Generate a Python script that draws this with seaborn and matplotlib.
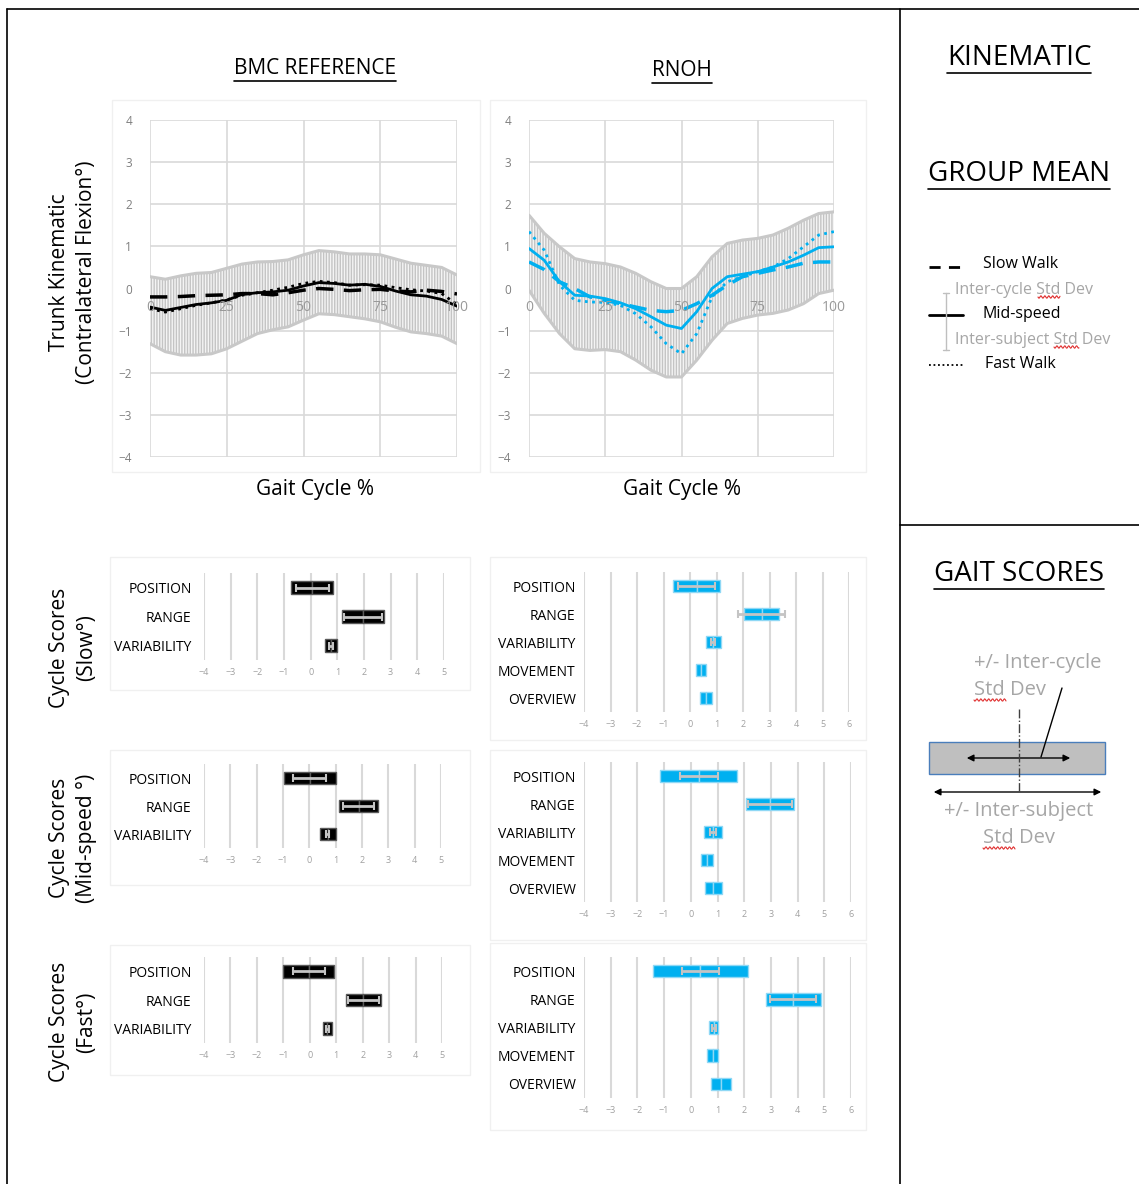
import numpy as np
import pandas as pd
import seaborn as sns
import matplotlib.pyplot as plt
from matplotlib.patches import Rectangle, FancyArrowPatch

W, H = 1139, 1184

# ---- kinematic curves (trunk contralateral flexion, deg) ----
gait_pct = [0, 5, 10, 15, 20, 25, 30, 35, 40, 45, 50, 55, 60, 65, 70, 75, 80, 85, 90, 95, 100]

bmc_mid = [-0.44, -0.52, -0.45, -0.38, -0.34, -0.28, -0.14, -0.10, -0.08, -0.04, 0.06,
           0.14, 0.12, 0.08, 0.10, 0.05, -0.06, -0.15, -0.18, -0.26, -0.42]
bmc_slow = [-0.20, -0.20, -0.19, -0.17, -0.16, -0.15, -0.12, -0.12, -0.15, -0.10, -0.04,
            0.00, -0.02, -0.05, -0.03, -0.02, -0.06, -0.08, -0.04, -0.07, -0.13]
bmc_fast = [-0.48, -0.56, -0.48, -0.40, -0.34, -0.27, -0.16, -0.10, -0.04, 0.03, 0.12,
            0.17, 0.14, 0.08, 0.09, 0.08, 0.02, -0.03, -0.06, -0.12, -0.38]
bmc_upper = [0.28, 0.22, 0.30, 0.36, 0.38, 0.48, 0.58, 0.63, 0.64, 0.68, 0.80,
             0.90, 0.87, 0.82, 0.82, 0.80, 0.70, 0.60, 0.55, 0.50, 0.32]
bmc_lower = [-1.31, -1.50, -1.58, -1.58, -1.55, -1.43, -1.25, -1.07, -0.98, -0.91, -0.75,
             -0.60, -0.62, -0.67, -0.72, -0.79, -0.92, -1.03, -1.07, -1.13, -1.31]

rnoh_mid = [0.95, 0.67, 0.16, -0.16, -0.18, -0.24, -0.34, -0.48, -0.67, -0.87, -0.95,
            -0.55, 0.00, 0.28, 0.34, 0.40, 0.51, 0.63, 0.79, 0.97, 0.99]
rnoh_slow = [0.63, 0.45, 0.16, 0.00, -0.20, -0.28, -0.36, -0.44, -0.52, -0.55, -0.52,
             -0.36, -0.16, 0.08, 0.28, 0.36, 0.44, 0.51, 0.60, 0.63, 0.63]
rnoh_fast = [1.35, 0.91, 0.08, -0.28, -0.32, -0.33, -0.40, -0.60, -0.91, -1.31, -1.55,
             -1.07, -0.20, 0.16, 0.28, 0.40, 0.51, 0.71, 0.99, 1.27, 1.35]
rnoh_upper = [1.74, 1.31, 0.99, 0.71, 0.63, 0.59, 0.51, 0.36, 0.16, 0.00, 0.00,
              0.28, 0.75, 1.07, 1.15, 1.19, 1.27, 1.43, 1.62, 1.78, 1.82]
rnoh_lower = [-0.04, -0.59, -1.07, -1.43, -1.47, -1.45, -1.50, -1.70, -1.94, -2.10, -2.10,
              -1.70, -1.23, -0.83, -0.71, -0.63, -0.59, -0.51, -0.36, -0.12, -0.04]

# ---- gait scores: mean, inter-subject half width, inter-cycle half width ----
bmc_cats = ["POSITION", "RANGE", "VARIABILITY"]
rnoh_cats = ["POSITION", "RANGE", "VARIABILITY", "MOVEMENT", "OVERVIEW"]

bmc_slow_mean = [0.06, 1.96, 0.76]
bmc_slow_subj = [0.78, 0.79, 0.23]
bmc_slow_cyc = [0.62, 0.70, 0.08]
bmc_mid_mean = [0.02, 1.88, 0.70]
bmc_mid_subj = [0.98, 0.74, 0.30]
bmc_mid_cyc = [0.63, 0.59, 0.05]
bmc_fast_mean = [-0.04, 2.03, 0.67]
bmc_fast_subj = [0.96, 0.66, 0.16]
bmc_fast_cyc = [0.60, 0.60, 0.05]

rnoh_slow_mean = [0.25, 2.71, 0.88, 0.41, 0.60]
rnoh_slow_subj = [0.89, 0.66, 0.28, 0.19, 0.23]
rnoh_slow_cyc = [0.70, 0.88, 0.08, np.nan, np.nan]
rnoh_mid_mean = [0.29, 2.97, 0.83, 0.60, 0.85]
rnoh_mid_subj = [1.45, 0.91, 0.33, 0.23, 0.32]
rnoh_mid_cyc = [0.71, 0.81, 0.10, np.nan, np.nan]
rnoh_fast_mean = [0.35, 3.84, 0.86, 0.82, 1.13]
rnoh_fast_subj = [1.78, 1.03, 0.17, 0.21, 0.38]
rnoh_fast_cyc = [0.69, 0.86, 0.08, np.nan, np.nan]

BLUE = "#00B0F0"
GRID = "#d9d9d9"
FONT = ["Open Sans", "DejaVu Sans"]

sns.set_theme(style="white")
plt.rcParams["font.family"] = FONT
plt.rcParams["text.color"] = "black"

fig = plt.figure(figsize=(W / 100, H / 100), dpi=100)


def box(x0, y0, x1, y1):
    return [x0 / W, 1 - y1 / H, (x1 - x0) / W, (y1 - y0) / H]


# overlay in pixel coordinates for the document frame and legends
ov = fig.add_axes([0, 0, 1, 1], zorder=5)
ov.set_xlim(0, W)
ov.set_ylim(H, 0)
ov.axis("off")
ov.patch.set_alpha(0)

# faint chart-area frames
for (x0, y0, x1, y1) in [(112, 100, 480, 472), (490, 100, 866, 472),
                         (110, 557, 470, 690), (490, 557, 866, 740),
                         (110, 750, 470, 885), (490, 750, 866, 940),
                         (110, 945, 470, 1075), (490, 943, 866, 1130)]:
    ov.add_patch(Rectangle((x0, y0), x1 - x0, y1 - y0, fill=False, ec="#f0f0f0", lw=1))


def kin_axes(rect, color, mid, slow, fast, upper, lower):
    ax = fig.add_axes(box(*rect))
    df = pd.DataFrame({"pct": gait_pct, "mid": mid, "slow": slow, "fast": fast,
                       "up": upper, "lo": lower})
    ax.fill_between(df["pct"], df["lo"], df["up"], facecolor="#f4f4f4",
                    edgecolor="#c4c4c4", hatch="||||||", linewidth=0, zorder=1)
    sns.lineplot(data=df, x="pct", y="up", ax=ax, color="#c8c8c8", linewidth=2.2, zorder=2)
    sns.lineplot(data=df, x="pct", y="lo", ax=ax, color="#c8c8c8", linewidth=2.2, zorder=2)
    sns.lineplot(data=df, x="pct", y="slow", ax=ax, color=color, linewidth=2.5,
                 linestyle=(0, (5, 3)), zorder=3)
    sns.lineplot(data=df, x="pct", y="fast", ax=ax, color=color, linewidth=2,
                 linestyle=(0, (1, 1.6)), zorder=3)
    sns.lineplot(data=df, x="pct", y="mid", ax=ax, color=color, linewidth=2, zorder=4)
    ax.set_xlim(0, 100)
    ax.set_ylim(-4, 4)
    ax.set_xticks([0, 25, 50, 75, 100])
    ax.set_yticks(range(-4, 5))
    ax.grid(True, axis="y", color=GRID, linewidth=1.2)
    ax.grid(False, axis="x")
    for xv in [0, 25, 50, 75, 100]:
        ax.axvline(xv, color=GRID, linewidth=1.2, zorder=0.5)
    ax.set_axisbelow(True)
    ax.xaxis.set_zorder(6)
    for s in ax.spines.values():
        s.set_color("none")
    ax.spines["bottom"].set_position(("data", 0))
    ax.tick_params(axis="x", length=0, pad=8, labelsize=10, labelcolor="#999999")
    ax.tick_params(axis="y", length=0, pad=13, labelsize=8.5, labelcolor="#7f7f7f")
    ax.set_xlabel("")
    ax.set_ylabel("")
    return ax


kin_axes((150, 120, 457, 457), "black", bmc_mid, bmc_slow, bmc_fast, bmc_upper, bmc_lower)
kin_axes((529, 120, 834, 457), BLUE, rnoh_mid, rnoh_slow, rnoh_fast, rnoh_upper, rnoh_lower)


def score_axes(rect, cats, mean, subj, cyc, color, edge, xmax, pad):
    ax = fig.add_axes(box(*rect))
    mean = np.array(mean)
    subj = np.array(subj)
    cyc = np.array(cyc)
    ypos = np.arange(len(cats))
    ax.barh(ypos, subj, left=mean - subj, height=0.45, color=color, edgecolor=edge,
            linewidth=1, zorder=3)
    ax.barh(ypos, subj, left=mean, height=0.45, color=color, edgecolor=edge,
            linewidth=1, zorder=3)
    ok = ~np.isnan(cyc)
    ax.errorbar(mean[ok], ypos[ok], xerr=cyc[ok], fmt="none", ecolor="#c4c4c4",
                elinewidth=2, capsize=3, capthick=1.5, zorder=4)
    ax.set_xlim(-4, xmax)
    ax.set_xticks(range(-4, xmax + 1))
    ax.set_ylim(len(cats) - 0.5, -0.5)
    ax.set_yticks(ypos)
    ax.set_yticklabels(cats)
    ax.grid(True, axis="x", color=GRID, linewidth=1.5)
    ax.grid(False, axis="y")
    ax.set_axisbelow(True)
    for s in ax.spines.values():
        s.set_visible(False)
    ax.tick_params(axis="x", length=0, pad=6, labelsize=6.5, labelcolor="#a0a0a0")
    ax.tick_params(axis="y", length=0, pad=pad, labelsize=10, labelcolor="black")
    return ax


score_axes((204, 573, 444, 660), bmc_cats, bmc_slow_mean, bmc_slow_subj, bmc_slow_cyc,
           "black", "#595959", 5, 9)
score_axes((584, 572, 849, 712), rnoh_cats, rnoh_slow_mean, rnoh_slow_subj, rnoh_slow_cyc,
           BLUE, "#8fd8f5", 6, 6)
score_axes((204, 764, 441, 848), bmc_cats, bmc_mid_mean, bmc_mid_subj, bmc_mid_cyc,
           "black", "#595959", 5, 9)
score_axes((584, 762, 851, 902), rnoh_cats, rnoh_mid_mean, rnoh_mid_subj, rnoh_mid_cyc,
           BLUE, "#8fd8f5", 6, 6)
score_axes((204, 957, 442, 1043), bmc_cats, bmc_fast_mean, bmc_fast_subj, bmc_fast_cyc,
           "black", "#595959", 5, 9)
score_axes((584, 957, 851, 1098), rnoh_cats, rnoh_fast_mean, rnoh_fast_subj, rnoh_fast_cyc,
           BLUE, "#8fd8f5", 6, 6)

# ---- document frame ----
ov.plot([7, 7], [9, H], color="black", lw=1.2)
ov.plot([7, W], [9, 9], color="black", lw=1.2)
ov.plot([900, 900], [9, H], color="black", lw=1.2)
ov.plot([900, W], [525, 525], color="black", lw=1.2)

# ---- titles and axis captions ----
heads = []
heads.append(ov.text(315, 69, "BMC REFERENCE", ha="center", va="center", fontsize=15))
heads.append(ov.text(682, 71, "RNOH", ha="center", va="center", fontsize=15))
ov.text(315, 489, "Gait Cycle %", ha="center", va="center", fontsize=15)
ov.text(682, 489, "Gait Cycle %", ha="center", va="center", fontsize=15)
ov.text(73, 272, "Trunk Kinematic\n(Contralateral Flexion°)", ha="center", va="center",
        rotation=90, fontsize=15, linespacing=1.4)
ov.text(73, 648, "Cycle Scores\n(Slow°)", ha="center", va="center", rotation=90,
        fontsize=15, linespacing=1.4)
ov.text(73, 838, "Cycle Scores\n(Mid-speed °)", ha="center", va="center", rotation=90,
        fontsize=15, linespacing=1.4)
ov.text(73, 1022, "Cycle Scores\n(Fast°)", ha="center", va="center", rotation=90,
        fontsize=15, linespacing=1.4)

heads.append(ov.text(1019, 58, "KINEMATIC", ha="center", va="center", fontsize=20))
heads.append(ov.text(1019, 174, "GROUP MEAN", ha="center", va="center", fontsize=20))
heads.append(ov.text(1019, 574, "GAIT SCORES", ha="center", va="center", fontsize=20))

# ---- group mean legend ----
LG = "#a6a6a6"
ov.plot([929, 963], [267, 267], color="black", lw=2, linestyle=(0, (4, 3)))
ov.plot([929, 963], [315, 315], color="black", lw=2)
ov.plot([929, 963], [365, 365], color="black", lw=1.3, linestyle=(0, (1, 1.5)))
ov.plot([946, 946], [293, 350], color="#bfbfbf", lw=1)
ov.plot([943, 949], [293, 293], color="#bfbfbf", lw=1)
ov.plot([943, 949], [350, 350], color="#bfbfbf", lw=1)
ov.text(983, 264, "Slow Walk", va="center", fontsize=11.5)
ov.text(955, 290, "Inter-cycle Std Dev", va="center", fontsize=11.5, color=LG)
ov.text(983, 314, "Mid-speed", va="center", fontsize=11.5)
ov.text(955, 340, "Inter-subject Std Dev", va="center", fontsize=11.5, color=LG)
ov.text(985, 364, "Fast Walk", va="center", fontsize=11.5)

# ---- gait scores legend ----
ov.text(974, 663, "+/- Inter-cycle", va="center", fontsize=14.5, color=LG)
ov.text(974, 690, "Std Dev", va="center", fontsize=14.5, color=LG)
ov.add_patch(Rectangle((929, 742), 176, 32, facecolor="#bfbfbf", edgecolor="#4a7ebb", lw=1))
ov.add_patch(FancyArrowPatch((964, 758), (1073, 758), arrowstyle="<|-|>", mutation_scale=10,
                             color="black", lw=1))
ov.plot([1062, 1041], [688, 757], color="black", lw=1)
ov.plot([1019, 1019], [709, 791], color="#404040", lw=1, linestyle="-.")
ov.add_patch(FancyArrowPatch((931, 792), (1104, 792), arrowstyle="<|-|>", mutation_scale=10,
                             color="black", lw=1))
ov.text(1019, 811, "+/- Inter-subject", ha="center", va="center", fontsize=14.5, color=LG)
ov.text(1019, 838, "Std Dev", ha="center", va="center", fontsize=14.5, color=LG)

# spell-check squiggles under "Std"
for (x0, x1, yy) in [(1038, 1060, 297), (1054, 1079, 347), (974, 1006, 700), (983, 1015, 848)]:
    xs = np.linspace(x0, x1, 40)
    ov.plot(xs, yy + 1.2 * np.sin((xs - x0) * 1.6), color="#e03030", lw=0.8)

# underline headings
fig.canvas.draw()
for t in heads:
    bb = t.get_window_extent()
    ov.plot([bb.x0, bb.x1], [H - bb.y0 + 1, H - bb.y0 + 1], color="black", lw=1.2)

fig.savefig("out.png", dpi=100)
